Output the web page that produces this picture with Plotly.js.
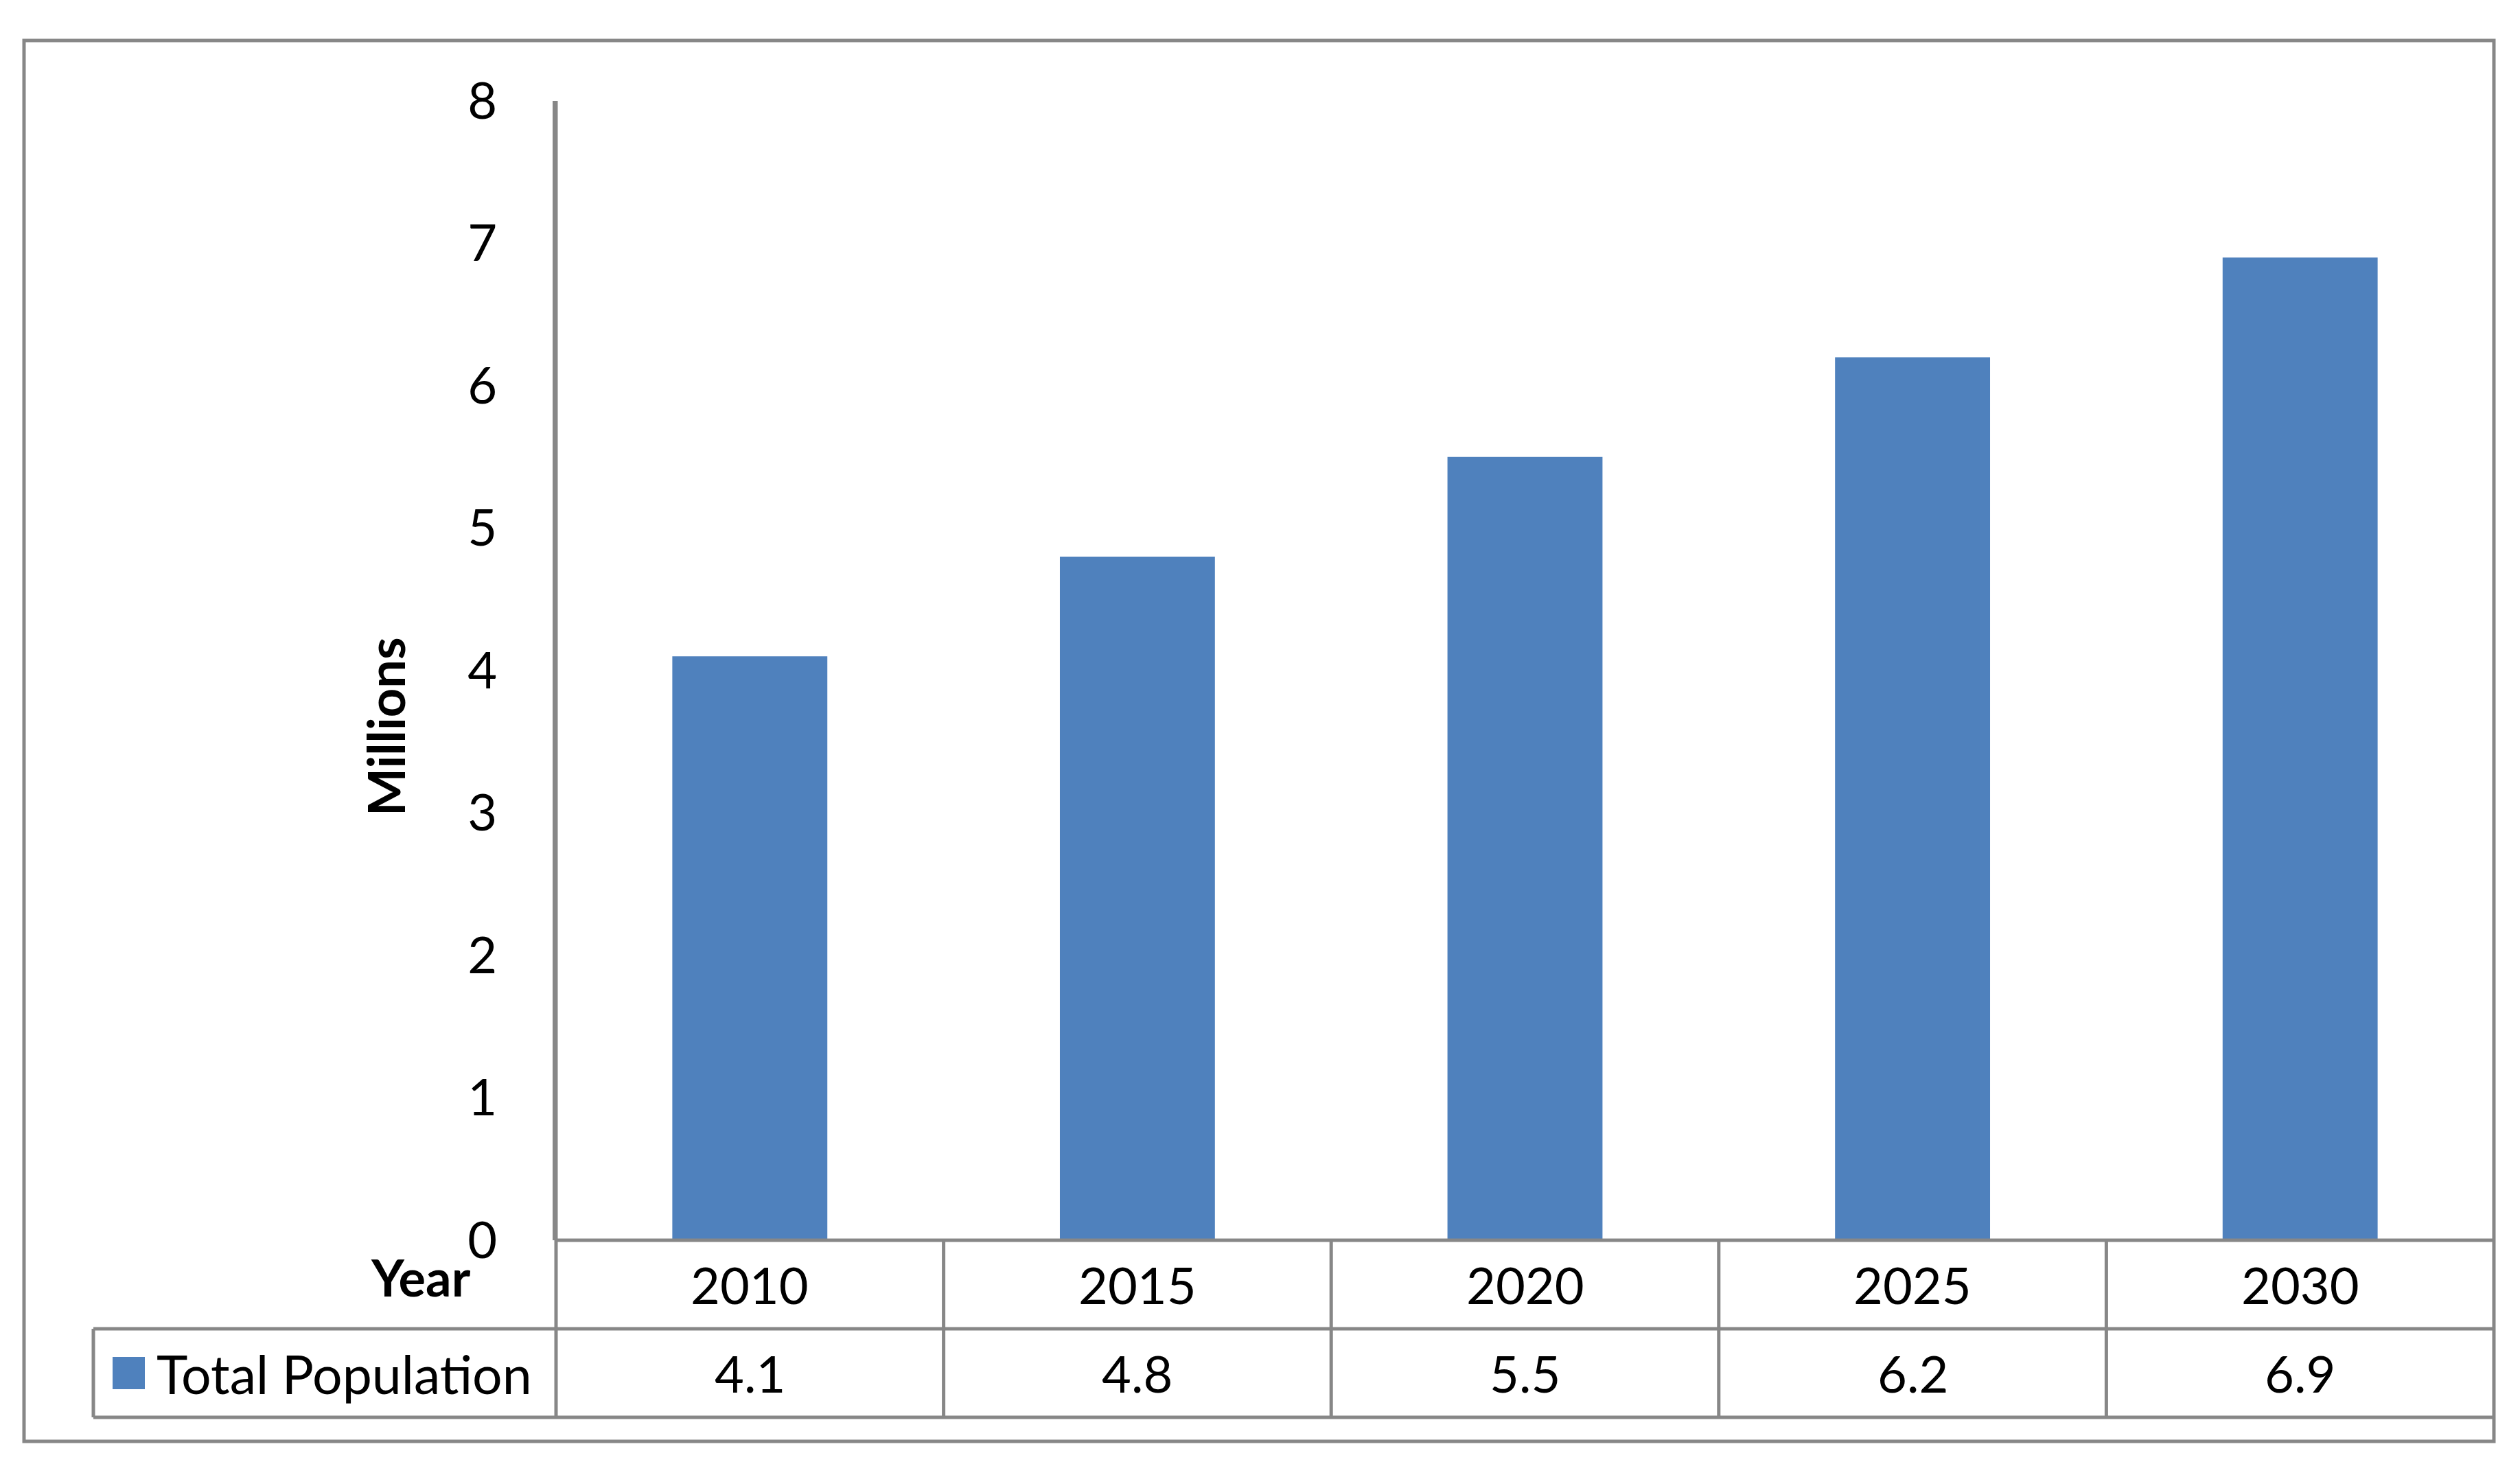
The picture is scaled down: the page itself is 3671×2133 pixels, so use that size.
<!DOCTYPE html>
<html>
<head>
<meta charset="utf-8">
<script src="https://cdn.plot.ly/plotly-3.0.1.min.js"></script>
<style>html,body{margin:0;padding:0;background:#fff;}#chart{width:3671px;height:2133px;}</style>
</head>
<body>
<div id="chart"></div>
<script>
// ---- data ----
const years = ['2010', '2015', '2020', '2025', '2030'];
const population = [4.1, 4.8, 5.5, 6.2, 6.9];
const seriesName = 'Total Population';
const yTickValues = [0, 1, 2, 3, 4, 5, 6, 7, 8];
const yAxisTitle = 'Millions';
const xAxisTitle = 'Year';

// ---- layout geometry (pixels) ----
const W = 3671, H = 2133;
const plotL = 810, plotR = 3633, plotT = 147, plotB = 1807;
const plotW = plotR - plotL, plotH = plotB - plotT;
const px = X => (X - plotL) / plotW;
const py = Y => (plotB - Y) / plotH;

const row1B = 1936, row2B = 2065;
const outerL = 35, outerT = 59, outerR = 3633, outerB = 2100;
const legendL = 136;

const lineColor = '#878787';
const lw = 5;
const barColor = '#4F81BD';
const FONT = 'Lato, "Open Sans", sans-serif';
const fs = 74;

const shapes = [];
// outer frame
shapes.push({type: 'rect', xref: 'paper', yref: 'paper', x0: px(outerL), x1: px(outerR), y0: py(outerB), y1: py(outerT), line: {color: lineColor, width: lw}, fillcolor: 'rgba(0,0,0,0)', layer: 'below'});
// y axis extension down through table
shapes.push({type: 'line', xref: 'paper', yref: 'paper', x0: 0, x1: 0, y0: py(row2B), y1: 1, line: {color: lineColor, width: lw}});
// horizontal lines of table
shapes.push({type: 'line', xref: 'paper', yref: 'paper', x0: 0, x1: 1, y0: 0, y1: 0, line: {color: lineColor, width: lw}});
shapes.push({type: 'line', xref: 'paper', yref: 'paper', x0: px(legendL), x1: 1, y0: py(row1B), y1: py(row1B), line: {color: lineColor, width: lw}});
shapes.push({type: 'line', xref: 'paper', yref: 'paper', x0: px(legendL), x1: 1, y0: py(row2B), y1: py(row2B), line: {color: lineColor, width: lw}});
// legend cell left border
shapes.push({type: 'line', xref: 'paper', yref: 'paper', x0: px(legendL), x1: px(legendL), y0: py(row2B), y1: py(row1B), line: {color: lineColor, width: lw}});
// column separators between categories
for (let i = 0; i < years.length - 1; i++) {
  shapes.push({type: 'line', xref: 'x', yref: 'paper', x0: i + 0.5, x1: i + 0.5, y0: py(row2B), y1: 0, line: {color: lineColor, width: lw}});
}
// legend key square
shapes.push({type: 'rect', xref: 'paper', yref: 'paper', x0: px(164), x1: px(211), y0: py(2024), y1: py(1977), line: {width: 0}, fillcolor: barColor});

const annotations = [];
years.forEach((yr, i) => {
  annotations.push({x: i, xref: 'x', y: py((plotB + row1B) / 2), yref: 'paper', text: yr, showarrow: false, xanchor: 'center', yanchor: 'middle', font: {family: FONT, size: fs, color: '#000'}});
  annotations.push({x: i, xref: 'x', y: py((row1B + row2B) / 2), yref: 'paper', text: population[i].toFixed(1), showarrow: false, xanchor: 'center', yanchor: 'middle', font: {family: FONT, size: fs, color: '#000'}});
});
annotations.push({x: px(226), xref: 'paper', y: py((row1B + row2B) / 2), yref: 'paper', text: seriesName, showarrow: false, xanchor: 'left', yanchor: 'middle', font: {family: FONT, size: 77, color: '#000'}});
annotations.push({x: px(688), xref: 'paper', y: py(1860), yref: 'paper', text: '<b>' + xAxisTitle + '</b>', showarrow: false, xanchor: 'right', yanchor: 'middle', font: {family: FONT, size: fs, color: '#000'}});
annotations.push({x: px(561), xref: 'paper', y: py(1059), yref: 'paper', text: '<b>' + yAxisTitle + '</b>', showarrow: false, textangle: -90, xanchor: 'center', yanchor: 'middle', font: {family: FONT, size: fs, color: '#000'}});

const trace = {
  type: 'bar',
  x: years,
  y: population,
  name: seriesName,
  marker: {color: barColor, line: {width: 0}},
  showlegend: false,
  hoverinfo: 'none'
};

const layout = {
  width: W, height: H,
  margin: {l: plotL, r: W - plotR, t: plotT, b: H - plotB, pad: 0},
  paper_bgcolor: '#fff', plot_bgcolor: '#fff',
  bargap: 0.6,
  showlegend: false,
  font: {family: FONT, size: fs, color: '#000'},
  xaxis: {type: 'category', range: [-0.5, years.length - 0.5], showticklabels: false, ticks: '', showgrid: false, zeroline: false, showline: false, fixedrange: true, automargin: false},
  yaxis: {range: [0, 8], tickvals: yTickValues, ticktext: yTickValues.map(String), ticks: '', showgrid: false, zeroline: false, showline: true, linecolor: lineColor, linewidth: lw, ticklabelstandoff: 66, tickfont: {family: FONT, size: fs, color: '#000'}, fixedrange: true, automargin: false},
  shapes: shapes,
  annotations: annotations
};

Plotly.newPlot('chart', [trace], layout, {displayModeBar: false, staticPlot: true});
</script>
</body>
</html>
